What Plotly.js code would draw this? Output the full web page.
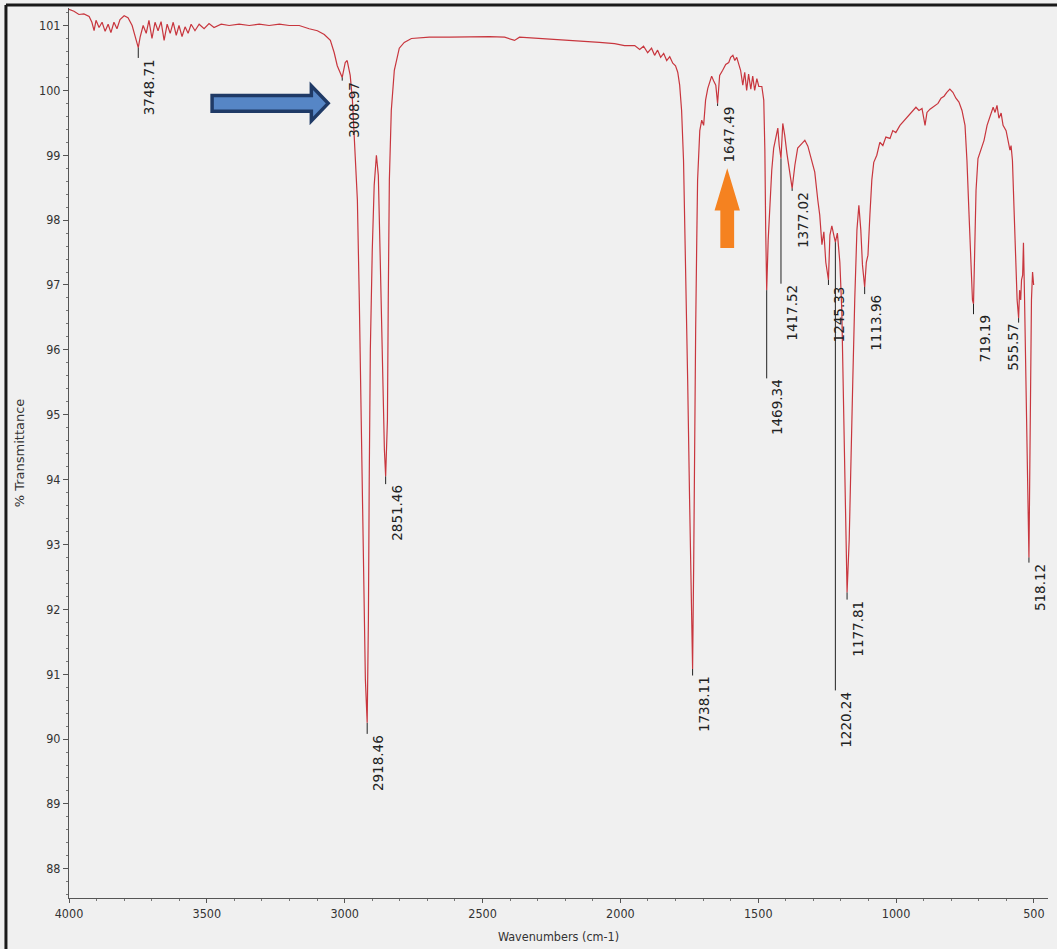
<!DOCTYPE html>
<html>
<head>
<meta charset="utf-8">
<script src="https://cdn.plot.ly/plotly-3.0.1.min.js"></script>
<style>
  html, body { margin: 0; padding: 0; background: #f0f0f0; }
  #chart { width: 1057px; height: 949px; }
</style>
</head>
<body>
<div id="chart"></div>
<script>
// FT-IR spectrum: wavenumber (cm-1) vs % transmittance
const wavenumber = [
  4000, 3982, 3964, 3946, 3927, 3917, 3909, 3902, 3891, 3880, 3869, 3858, 3848, 3837, 3826, 3815,
  3800, 3786, 3771, 3760, 3748.71, 3742, 3731, 3720, 3710, 3699, 3688, 3677, 3666, 3655, 3644, 3633,
  3622, 3611, 3601, 3590, 3579, 3568, 3557, 3543, 3528, 3510, 3492, 3474, 3448, 3419, 3383, 3346,
  3310, 3274, 3237, 3201, 3165, 3129, 3099, 3074, 3052, 3038, 3027, 3008.97, 2998, 2991, 2980, 2972,
  2965, 2954, 2947, 2940, 2932, 2925, 2918.46, 2914, 2911, 2907, 2900, 2893, 2885, 2878, 2871, 2863,
  2856, 2851.46, 2845, 2842, 2838, 2831, 2820, 2802, 2784, 2758, 2693, 2620, 2548, 2475, 2420, 2384,
  2366, 2293, 2221, 2148, 2076, 2021, 1985, 1948, 1930, 1916, 1901, 1887, 1876, 1865, 1854, 1843,
  1832, 1821, 1810, 1800, 1792, 1785, 1778, 1771, 1763, 1756, 1749, 1743, 1738.11, 1734, 1731, 1727,
  1723, 1720, 1712, 1705, 1698, 1691, 1683, 1676, 1669, 1662, 1654, 1647.49, 1640, 1629, 1618, 1607,
  1600, 1592, 1585, 1578, 1571, 1564, 1556, 1549, 1542, 1535, 1527, 1520, 1513, 1505, 1498, 1487,
  1480, 1476, 1473, 1469.34, 1464, 1458, 1451, 1444, 1436, 1429, 1424, 1417.52, 1411, 1404, 1396, 1389,
  1377.02, 1367, 1357, 1342, 1331, 1320, 1306, 1295, 1284, 1277, 1269, 1262, 1255, 1245.33, 1240, 1233,
  1225, 1220.24, 1213, 1204, 1197, 1190, 1182, 1177.81, 1170, 1164, 1157, 1150, 1142, 1135, 1128, 1122,
  1113.96, 1108, 1102, 1095, 1088, 1081, 1070, 1059, 1048, 1037, 1022, 1012, 1001, 986, 975, 964,
  950, 939, 928, 917, 906, 895, 888, 877, 863, 848, 837, 826, 816, 805, 794, 783,
  772, 761, 750, 743, 736, 728, 723, 719.19, 716, 710, 703, 692, 681, 670, 659, 648,
  641, 634, 627, 619, 612, 601, 594, 587, 583, 578, 572, 567, 561, 555.57, 552, 548,
  545, 541, 538, 534, 529, 523, 518.12, 515, 512, 509, 505, 501
];

const transmittance = [
  101.25, 101.22, 101.17, 101.18, 101.14, 101.05, 100.92, 101.08, 100.97, 101.05, 100.91, 101.02, 100.89, 101.05, 100.95, 101.09,
  101.15, 101.12, 101.0, 100.85, 100.66, 100.82, 101.0, 100.88, 101.08, 100.8, 101.05, 100.92, 101.06, 100.77, 101.02, 100.88,
  101.05, 100.85, 101.0, 100.83, 100.98, 100.88, 101.02, 100.92, 101.02, 100.95, 101.03, 100.97, 101.02, 101.0, 101.02, 101.0,
  101.02, 101.0, 101.02, 101.0, 101.0, 100.95, 100.92, 100.86, 100.77, 100.58, 100.38, 100.2, 100.43, 100.46, 100.23, 99.85,
  99.23, 98.31, 96.77, 94.92, 92.77, 90.92, 90.25, 91.85, 94.0, 96.0, 97.54, 98.54, 99.0, 98.69, 97.38, 95.54,
  94.46, 94.05, 94.92, 96.77, 98.62, 99.69, 100.31, 100.65, 100.74, 100.8, 100.82, 100.82, 100.83, 100.83, 100.82, 100.77,
  100.82, 100.8, 100.78, 100.77, 100.74, 100.72, 100.69, 100.69, 100.63, 100.68, 100.58, 100.65, 100.54, 100.62, 100.51, 100.57,
  100.46, 100.52, 100.42, 100.38, 100.28, 100.08, 99.69, 98.92, 97.38, 95.54, 93.69, 92.15, 91.08, 92.77, 94.62, 96.31,
  97.69, 98.62, 99.38, 99.54, 99.46, 99.85, 100.03, 100.12, 100.22, 100.15, 100.08, 99.8, 100.23, 100.31, 100.4, 100.43,
  100.51, 100.54, 100.46, 100.51, 100.4, 100.31, 100.08, 100.28, 100.0, 100.25, 100.02, 100.22, 100.0, 100.18, 100.06, 100.06,
  99.85, 99.08, 97.85, 96.92, 97.69, 98.31, 98.77, 99.11, 99.31, 99.42, 99.15, 98.95, 99.49, 99.31, 99.03, 98.8,
  98.49, 98.85, 99.11, 99.18, 99.23, 99.14, 98.89, 98.74, 98.31, 98.08, 97.62, 97.82, 97.35, 97.08, 97.77, 97.91,
  97.75, 97.66, 97.8, 97.35, 96.62, 94.92, 93.38, 92.26, 93.08, 94.46, 95.54, 96.77, 97.85, 98.23, 97.85, 97.31,
  96.97, 97.35, 97.46, 98.08, 98.62, 98.89, 99.0, 99.2, 99.15, 99.28, 99.26, 99.38, 99.35, 99.46, 99.51, 99.57,
  99.63, 99.69, 99.74, 99.69, 99.72, 99.46, 99.66, 99.71, 99.75, 99.8, 99.88, 99.91, 99.97, 100.02, 99.97, 99.88,
  99.82, 99.69, 99.46, 98.92, 98.15, 97.23, 96.77, 96.71, 97.54, 98.46, 98.95, 99.11, 99.23, 99.46, 99.62, 99.74,
  99.66, 99.77, 99.57, 99.65, 99.46, 99.38, 99.23, 99.08, 99.15, 98.92, 98.15, 97.38, 96.77, 96.49, 96.92, 96.77,
  97.08, 97.15, 97.65, 96.77, 95.23, 94.0, 92.8, 94.0, 95.54, 96.77, 97.2, 97.0
];

// Picked peaks (wavenumber, %T at the peak)
const peakWavenumber = [3748.71, 3008.97, 2918.46, 2851.46, 1738.11, 1647.49, 1469.34, 1417.52,
                        1377.02, 1245.33, 1220.24, 1177.81, 1113.96, 719.19, 555.57, 518.12];
const peakT = [100.66, 100.2, 90.25, 94.05, 91.08, 99.8, 96.92, 98.95,
               98.49, 97.08, 97.66, 92.26, 96.97, 96.71, 96.49, 92.8];

// Where each peak label starts (the leader line runs from the peak down to here)
const labelTop = [100.5, 100.15, 90.08, 93.93, 90.98, 99.76, 95.56, 97.02,
                  98.45, 97.0, 90.75, 92.15, 96.86, 96.55, 96.42, 92.72];
const labelSide = ['left', 'left', 'left', 'left', 'left', 'left', 'left', 'left',
                   'left', 'left', 'left', 'left', 'left', 'left', 'right', 'left'];

const xTicks = [4000, 3500, 3000, 2500, 2000, 1500, 1000, 500];

const narrow = 'Liberation Sans Narrow, Arial Narrow, DejaVu Sans Condensed, sans-serif';
const labelFont = {family: 'DejaVu Sans, sans-serif', size: 13.5, color: '#222'};

const spectrum = {
  x: wavenumber,
  y: transmittance,
  type: 'scatter',
  mode: 'lines',
  line: {color: '#c8363e', width: 1.2},
  hoverinfo: 'x+y'
};

const shapes = [];
const annotations = [];

peakWavenumber.forEach((wn, i) => {
  shapes.push({
    type: 'line', xref: 'x', yref: 'y', layer: 'above',
    x0: wn, x1: wn, y0: peakT[i], y1: labelTop[i],
    line: {color: '#222', width: 1}
  });
  annotations.push({
    x: wn, y: labelTop[i], xref: 'x', yref: 'y',
    text: wn.toFixed(2), textangle: -90, showarrow: false,
    xanchor: labelSide[i], yanchor: 'top',
    xshift: labelSide[i] === 'left' ? 2 : 3,
    borderpad: 0, font: labelFont
  });
});

// Horizontal arrow (pointing right) marking the =C-H band
function rightArrow(x0, xBase, xTip, yc, halfShaft, halfHead) {
  return `M ${x0},${yc + halfShaft} L ${xBase},${yc + halfShaft} L ${xBase},${yc + halfHead} ` +
         `L ${xTip},${yc} L ${xBase},${yc - halfHead} L ${xBase},${yc - halfShaft} L ${x0},${yc - halfShaft} Z`;
}
// Vertical arrow (pointing up) marking the C=C band
function upArrow(xc, yBottom, yBase, yTip, halfShaft, halfHead) {
  return `M ${xc - halfShaft},${yBottom} L ${xc - halfShaft},${yBase} L ${xc - halfHead},${yBase} ` +
         `L ${xc},${yTip} L ${xc + halfHead},${yBase} L ${xc + halfShaft},${yBase} L ${xc + halfShaft},${yBottom} Z`;
}

shapes.push({
  type: 'path', xref: 'x', yref: 'y', layer: 'above',
  path: rightArrow(3481, 3121, 3060, 99.8, 0.12, 0.27),
  fillcolor: '#5686c6', line: {color: '#1f3a66', width: 3.5}
});
shapes.push({
  type: 'path', xref: 'x', yref: 'y', layer: 'above',
  path: upArrow(1612.5, 97.57, 98.15, 98.8, 25, 46),
  fillcolor: '#f58220', line: {width: 0}
});

// Dark frame along the top and left edges of the figure
shapes.push({type: 'line', xref: 'paper', yref: 'paper', x0: -0.0644, x1: -0.0644, y0: -0.06, y1: 1.0034,
             line: {color: '#1a1a1a', width: 3}});
shapes.push({type: 'line', xref: 'paper', yref: 'paper', x0: -0.0644, x1: 1.01, y0: 1.0034, y1: 1.0034,
             line: {color: '#1a1a1a', width: 3}});

const layout = {
  width: 1057, height: 949,
  margin: {l: 69, r: 9, t: 8, b: 51},
  paper_bgcolor: '#f0f0f0',
  plot_bgcolor: '#f0f0f0',
  showlegend: false,
  xaxis: {
    range: [4000, 449],
    tickvals: xTicks,
    ticks: 'outside', ticklen: 4, tickcolor: '#555',
    showline: true, linecolor: '#555', linewidth: 1,
    showgrid: false, zeroline: false,
    tickfont: {family: narrow, size: 12.5, color: '#333'},
    minor: {dtick: 100, ticks: 'outside', ticklen: 2, tickcolor: '#777', showgrid: false},
    title: {text: 'Wavenumbers (cm-1)', font: {family: narrow, size: 12.5, color: '#333'}, standoff: 12}
  },
  yaxis: {
    range: [87.55, 101.27],
    dtick: 1,
    ticks: 'outside', ticklen: 5, tickcolor: '#555',
    showline: true, linecolor: '#555', linewidth: 1,
    showgrid: false, zeroline: false,
    tickfont: {family: narrow, size: 12.5, color: '#333'},
    minor: {dtick: 0.2, ticks: 'outside', ticklen: 2, tickcolor: '#777', showgrid: false},
    title: {text: '% Transmittance', font: {family: 'DejaVu Sans, sans-serif', size: 13, color: '#333'}, standoff: 11}
  },
  shapes: shapes,
  annotations: annotations
};

Plotly.newPlot('chart', [spectrum], layout, {displayModeBar: false, staticPlot: true});
</script>
</body>
</html>
